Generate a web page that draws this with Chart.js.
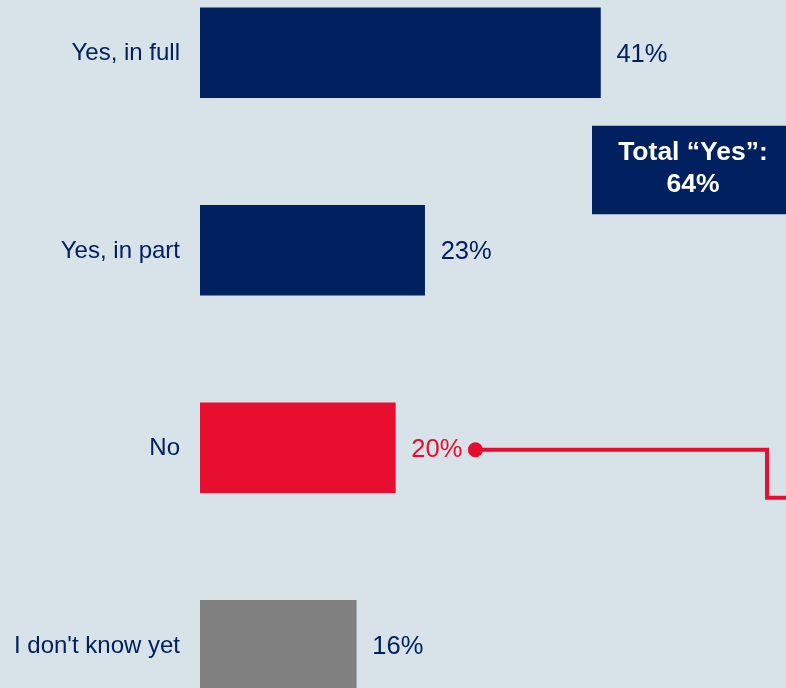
<!DOCTYPE html>
<html>
<head>
<meta charset="utf-8">
<script src="https://cdn.jsdelivr.net/npm/chart.js@4/dist/chart.umd.min.js"></script>
<style>
  html, body { margin: 0; padding: 0; width: 786px; height: 688px; overflow: hidden; background: #d8e2e9; }
  #wrap { position: absolute; left: 0; top: -46px; width: 786px; height: 790px; }
</style>
</head>
<body>
<div id="wrap"><canvas id="c" width="786" height="790"></canvas></div>
<script>
const categories = ["Yes, in full", "Yes, in part", "No", "I don't know yet"];
const values = [41, 23, 20, 16];
const barColors = ["#002060", "#002060", "#e60d2e", "#808080"];
const labelColors = ["#002060", "#002060", "#e60d2e", "#002060"];
const totalYesLabel = "Total \u201cYes\u201d:";
const totalYes = values[0] + values[1];

const BG = "#d8e2e9";
const NAVY = "#002060";
const RED = "#e60d2e";
const FONT = '"Liberation Sans", Arial, sans-serif';

const annotPlugin = {
  id: 'annot',
  beforeDraw(chart) {
    const ctx = chart.ctx;
    ctx.save();
    ctx.fillStyle = BG;
    ctx.fillRect(0, 0, chart.width, chart.height);
    ctx.restore();
  },
  afterDatasetsDraw(chart) {
    const ctx = chart.ctx;
    const meta = chart.getDatasetMeta(0);
    const area = chart.chartArea;
    ctx.save();
    ctx.textBaseline = 'middle';
    let noDot = null;
    meta.data.forEach((bar, i) => {
      // category label
      ctx.font = '24px ' + FONT;
      ctx.fillStyle = NAVY;
      ctx.textAlign = 'right';
      ctx.fillText(categories[i], area.left - 20, bar.y + 1);
      // value label
      ctx.font = '25.5px ' + FONT;
      ctx.fillStyle = labelColors[i];
      ctx.textAlign = 'left';
      const txt = values[i] + '%';
      const lx = bar.x + 16;
      ctx.fillText(txt, lx, bar.y + 2);
      if (i === 2) {
        noDot = { x: lx + ctx.measureText(txt).width + 13, y: bar.y + 2 };
      }
    });
    // connector from "No"
    if (noDot) {
      const turnX = area.right - 19;
      ctx.strokeStyle = RED;
      ctx.lineWidth = 4;
      ctx.lineJoin = 'miter';
      ctx.beginPath();
      ctx.moveTo(noDot.x, noDot.y);
      ctx.lineTo(turnX, noDot.y);
      ctx.lineTo(turnX, noDot.y + 48);
      ctx.lineTo(area.right + 10, noDot.y + 48);
      ctx.stroke();
      ctx.fillStyle = RED;
      ctx.beginPath();
      ctx.arc(noDot.x, noDot.y, 7.5, 0, Math.PI * 2);
      ctx.fill();
    }
    // Total Yes box
    const b0 = meta.data[0], b1 = meta.data[1];
    const boxTop = b0.y + 73;
    const boxBottom = b1.y - 36;
    const boxLeft = 592;
    ctx.fillStyle = NAVY;
    ctx.fillRect(boxLeft, boxTop, area.right + 20 - boxLeft, boxBottom - boxTop);
    ctx.fillStyle = '#ffffff';
    ctx.textAlign = 'center';
    ctx.font = 'bold 26.5px ' + FONT;
    const cx = 693;
    const cy = (boxTop + boxBottom) / 2;
    ctx.fillText(totalYesLabel, cx, cy - 17);
    ctx.fillText(totalYes + '%', cx, cy + 15);
    ctx.restore();
  }
};

new Chart(document.getElementById('c'), {
  type: 'bar',
  data: {
    labels: categories,
    datasets: [{
      data: values,
      backgroundColor: barColors,
      borderWidth: 0,
      barThickness: 90
    }]
  },
  options: {
    indexAxis: 'y',
    responsive: false,
    animation: false,
    devicePixelRatio: 1,
    layout: { padding: { left: 200, right: 0, top: 0, bottom: 0 } },
    scales: {
      x: { display: false, min: 0, max: 60 },
      y: { display: false, offset: true }
    },
    plugins: {
      legend: { display: false },
      tooltip: { enabled: false }
    }
  },
  plugins: [annotPlugin]
});
</script>
</body>
</html>
